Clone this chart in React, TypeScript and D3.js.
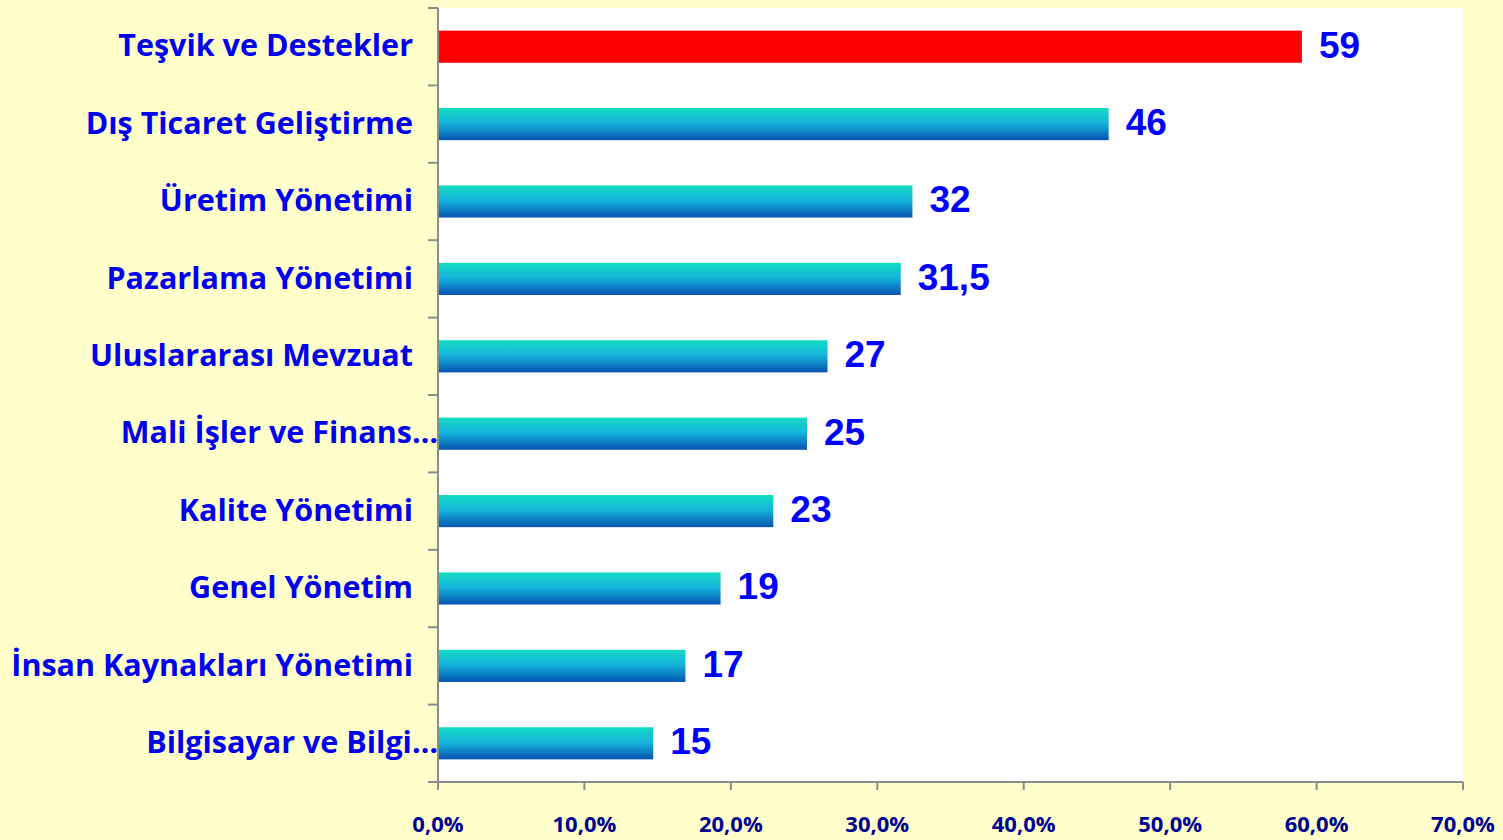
import React, { useRef, useEffect } from "react";
import * as d3 from "d3";

const categories = [
  "Teşvik ve Destekler",
  "Dış Ticaret Geliştirme",
  "Üretim Yönetimi",
  "Pazarlama Yönetimi",
  "Uluslararası Mevzuat",
  "Mali İşler ve Finans…",
  "Kalite Yönetimi",
  "Genel Yönetim",
  "İnsan Kaynakları Yönetimi",
  "Bilgisayar ve Bilgi…",
];
const values = [59, 45.8, 32.4, 31.6, 26.6, 25.2, 22.9, 19.3, 16.9, 14.7];
const valueLabels = ["59", "46", "32", "31,5", "27", "25", "23", "19", "17", "15"];
const xTicks = [0, 10, 20, 30, 40, 50, 60, 70];

const App = () => {
  const svgRef = useRef<SVGSVGElement>(null);

  useEffect(() => {
    const W = 1503, H = 840;
    const left = 438, right = 1463, top = 8, bottom = 782;

    const svg = d3.select(svgRef.current).attr("width", W).attr("height", H);
    svg.selectAll("*").remove();

    const defs = svg.append("defs");
    const grad = defs.append("linearGradient").attr("id", "barGrad")
      .attr("x1", 0).attr("y1", 0).attr("x2", 0).attr("y2", 1);
    grad.append("stop").attr("offset", "0%").attr("stop-color", "#12dcc0");
    grad.append("stop").attr("offset", "45%").attr("stop-color", "#16b6dc");
    grad.append("stop").attr("offset", "100%").attr("stop-color", "#0454b0");

    svg.append("rect").attr("width", W).attr("height", H).attr("fill", "#ffffcc");
    svg.append("rect").attr("x", left).attr("y", top)
      .attr("width", right - left).attr("height", bottom - top).attr("fill", "#ffffff");

    const x = d3.scaleLinear().domain([0, 70]).range([left, right]);
    const y = d3.scaleBand().domain(categories).range([top, bottom]).paddingInner(0.585).paddingOuter(0.2925);
    const band = (bottom - top) / categories.length;

    // bars
    svg.selectAll(".bar")
      .data(categories)
      .enter()
      .append("rect")
      .attr("x", x(0))
      .attr("y", d => y(d)!)
      .attr("width", (d, i) => x(values[i]) - x(0))
      .attr("height", y.bandwidth())
      .attr("fill", (d, i) => (i === 0 ? "#ff0000" : "url(#barGrad)"));

    // value labels
    svg.selectAll(".val")
      .data(categories)
      .enter()
      .append("text")
      .attr("x", (d, i) => x(values[i]) + 17)
      .attr("y", d => y(d)! + y.bandwidth() / 2 - 2)
      .attr("dy", "0.35em")
      .attr("font-family", "'Liberation Sans', Arial, sans-serif")
      .attr("font-weight", "bold")
      .attr("font-size", 37)
      .attr("fill", "#0000ff")
      .text((d, i) => valueLabels[i]);

    // category labels
    svg.selectAll(".cat")
      .data(categories)
      .enter()
      .append("text")
      .attr("x", d => (d.endsWith("…") ? left : 413))
      .attr("y", d => y(d)! + y.bandwidth() / 2 - 1)
      .attr("dy", "0.35em")
      .attr("text-anchor", "end")
      .attr("font-family", "'Open Sans', sans-serif")
      .attr("font-weight", "bold")
      .attr("font-size", 30.5)
      .attr("fill", "#0000ee")
      .text(d => d);

    // y axis + ticks
    const axisColor = "#8c8c8c";
    svg.append("line").attr("x1", left).attr("x2", left).attr("y1", top).attr("y2", bottom + 8)
      .attr("stroke", axisColor).attr("stroke-width", 2);
    svg.selectAll(".ytick")
      .data(d3.range(categories.length + 1))
      .enter()
      .append("line")
      .attr("x1", left - 10).attr("x2", left)
      .attr("y1", i => top + i * band).attr("y2", i => top + i * band)
      .attr("stroke", axisColor).attr("stroke-width", 2);

    // x axis
    svg.append("line").attr("x1", left - 10).attr("x2", right).attr("y1", bottom).attr("y2", bottom)
      .attr("stroke", axisColor).attr("stroke-width", 2);
    svg.selectAll(".xtick")
      .data(xTicks)
      .enter()
      .append("line")
      .attr("x1", d => x(d)).attr("x2", d => x(d))
      .attr("y1", bottom).attr("y2", bottom + 8)
      .attr("stroke", axisColor).attr("stroke-width", 2);
    svg.selectAll(".xlab")
      .data(xTicks)
      .enter()
      .append("text")
      .attr("x", d => x(d))
      .attr("y", 832)
      .attr("text-anchor", "middle")
      .attr("font-family", "'Open Sans', sans-serif")
      .attr("font-weight", "bold")
      .attr("font-size", 22)
      .attr("fill", "#000090")
      .text(d => d.toFixed(1).replace(".", ",") + "%");
  }, []);

  return <svg ref={svgRef} style={{ display: "block", position: "absolute", left: 0, top: 0 }}></svg>;
};

export default App;
